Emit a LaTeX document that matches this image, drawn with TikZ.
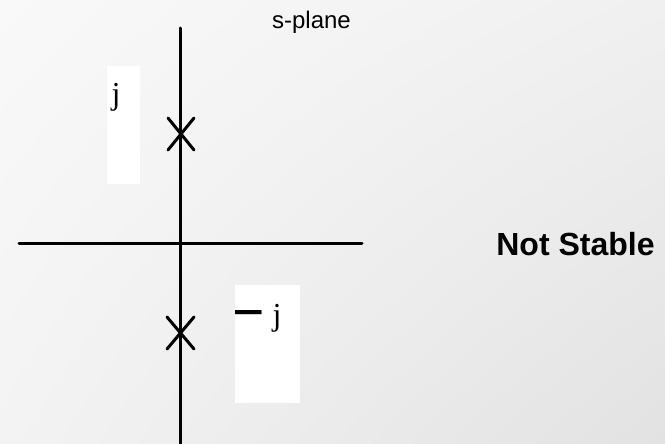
\documentclass[tikz,border=0pt]{standalone}
\usepackage{fontspec}
\setmainfont{Liberation Serif}
\setsansfont{Liberation Sans}
\usetikzlibrary{shadings}
\definecolor{bgul}{RGB}{249,249,249}
\definecolor{bgur}{RGB}{240,240,240}
\definecolor{bgll}{RGB}{243,243,243}
\definecolor{bglr}{RGB}{226,226,226}
\begin{document}
\begin{tikzpicture}[x=1pt,y=-1pt,
  axis/.style={line width=3pt,line cap=round},
  pole/.style={line width=3pt,line cap=round},
  whitebox/.style={fill=white,draw=none},
  jlabel/.style={font=\fontsize{32}{32}\selectfont\rmfamily,anchor=base,inner sep=0pt},
  title/.style={font=\fontsize{24}{24}\selectfont\sffamily,anchor=base,inner sep=0pt},
  verdict/.style={font=\fontsize{32}{32}\selectfont\sffamily\bfseries,anchor=base,inner sep=0pt}]
\useasboundingbox (0,0) rectangle (665,444);
\shade[upper left=bgul, upper right=bgur, lower left=bgll, lower right=bglr] (0,0) rectangle (665,444);
% white label boxes
\fill[whitebox] (107,66) rectangle (140,184);
\fill[whitebox] (235,285) rectangle (300,403);
% axes
\coordinate (vtop) at (180,28);
\coordinate (vbot) at (180,446);
\coordinate (hl) at (19,243);
\coordinate (hr) at (362,243);
\draw[axis] (vtop) -- (vbot);
\draw[axis] (hl) -- (hr);
% poles
\coordinate (p1a) at (168,118); \coordinate (p1b) at (194,150);
\coordinate (p1c) at (168,150); \coordinate (p1d) at (194,118);
\draw[pole] (p1a) -- (p1b) (p1c) -- (p1d);
\coordinate (p2a) at (167,317); \coordinate (p2b) at (194,349);
\coordinate (p2c) at (167,349); \coordinate (p2d) at (194,317);
\draw[pole] (p2a) -- (p2b) (p2c) -- (p2d);
% labels
\node[jlabel] (jup) at (116,105) {j};
\node[font=\fontsize{30}{30}\selectfont\rmfamily\bfseries,inner sep=0pt] (minus) at (248.5,321) {\scalebox{1.9}[2]{−}};
\node[jlabel] (jdown) at (277,325) {j};
\node[title] (splane) at (311.5,29) {s-plane};
\node[verdict] (ns) at (575.5,255) {Not Stable};
\end{tikzpicture}
\end{document}
